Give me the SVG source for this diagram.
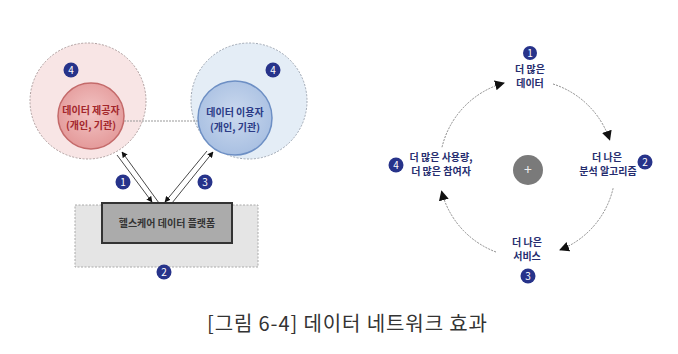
<svg xmlns="http://www.w3.org/2000/svg" width="678" height="354" viewBox="0 0 678 354">
<defs>
<marker id="ah" viewBox="0 0 10 10" refX="9" refY="5" markerWidth="6" markerHeight="6" orient="auto" markerUnits="userSpaceOnUse"><path d="M0,0 L10,5 L0,10 Z" fill="#111"/></marker>
<marker id="ahb" viewBox="0 0 10 10" refX="9" refY="5" markerWidth="10" markerHeight="10" orient="auto" markerUnits="userSpaceOnUse"><path d="M0,0 L10,5 L0,10 Z" fill="#111"/></marker>
<radialGradient id="gr" cx="50%" cy="45%" r="55%"><stop offset="0" stop-color="#f2c4c4"/><stop offset="1" stop-color="#e49a9a"/></radialGradient>
<radialGradient id="gb" cx="50%" cy="45%" r="55%"><stop offset="0" stop-color="#cbd9ee"/><stop offset="1" stop-color="#a9c0e2"/></radialGradient>
</defs>
<style>
text{font-family:"Noto Sans CJK KR","Noto Sans",sans-serif}
.badge circle{fill:#27338a}
.badge text{fill:#fff;font-size:10px;text-anchor:middle}
.lbl{font-size:10px;font-weight:bold;fill:#252c6e;text-anchor:middle}
.arc{fill:none;stroke:#8a8a8a;stroke-width:1;stroke-dasharray:2 1.2}
.ln{stroke:#333;stroke-width:0.9;fill:none}
.ct{font-size:10px;font-weight:bold;text-anchor:middle}
</style>
<rect width="678" height="354" fill="#fff"/>

<g id="provider-zone">
<circle cx="88" cy="101" r="58" fill="#f8e5e5" stroke="#b0a0a0" stroke-width="1" stroke-dasharray="2 1.5"/>
</g>
<g id="user-zone">
<circle cx="249" cy="101" r="58" fill="#e4edf6" stroke="#a0a8b4" stroke-width="1" stroke-dasharray="2 1.5"/>
</g>
<g id="platform-zone">
<rect x="75" y="205" width="183" height="62" fill="#e5e5e5" stroke="#aaa" stroke-width="1" stroke-dasharray="2 1.5"/>
</g>

<g id="connectors">
<line x1="124" y1="121" x2="198" y2="121" stroke="#999" stroke-width="1" stroke-dasharray="2 1"/>
<line class="ln" x1="117" y1="155" x2="152" y2="202" marker-end="url(#ah)"/>
<line class="ln" x1="159" y1="203" x2="122" y2="152" marker-end="url(#ah)"/>
<line class="ln" x1="207" y1="151" x2="165" y2="202" marker-end="url(#ah)"/>
<line class="ln" x1="172" y1="203" x2="213" y2="152" marker-end="url(#ah)"/>
<path class="arc" d="M553,84 A88,88 0 0 1 609.7,139.9" marker-end="url(#ahb)"/>
<path class="arc" d="M613.1,188.3 A88,88 0 0 1 560,250" marker-end="url(#ahb)"/>
<path class="arc" d="M496,252 A88,88 0 0 1 441.6,191.3" marker-end="url(#ahb)"/>
<path class="arc" d="M442,147.2 A88,88 0 0 1 504,83" marker-end="url(#ahb)"/>
</g>

<g id="provider">
<circle cx="91" cy="116" r="33" fill="url(#gr)" stroke="#c46a6a" stroke-width="1.5"/>
<text class="ct" x="91" y="114" fill="#a3262b">데이터 제공자</text>
<text class="ct" x="91" y="129" fill="#a3262b">(개인, 기관)</text>
</g>
<g id="user">
<circle cx="235" cy="118" r="37" fill="url(#gb)" stroke="#6d8fc4" stroke-width="1.5"/>
<text class="ct" x="235" y="116" fill="#2a3a86">데이터 이용자</text>
<text class="ct" x="235" y="131" fill="#2a3a86">(개인, 기관)</text>
</g>
<g id="platform">
<rect x="102" y="203" width="130" height="40" fill="#ababab" stroke="#333" stroke-width="2"/>
<text x="167" y="227" font-size="10" font-weight="bold" fill="#333" text-anchor="middle">헬스케어 데이터 플랫폼</text>
</g>

<g id="badges-left">
<g class="badge"><circle cx="71" cy="70" r="7.5"/><text x="71" y="73.5">4</text></g>
<g class="badge"><circle cx="273" cy="70" r="7.5"/><text x="273" y="73.5">4</text></g>
<g class="badge"><circle cx="123" cy="182" r="7.5"/><text x="123" y="185.5">1</text></g>
<g class="badge"><circle cx="205" cy="182" r="7.5"/><text x="205" y="185.5">3</text></g>
<g class="badge"><circle cx="164" cy="272" r="7.5"/><text x="164" y="275.5">2</text></g>
</g>

<g id="center">
<circle cx="528" cy="170" r="15" fill="#7a7a7a"/>
<text x="528" y="175" font-size="14" fill="#eee" text-anchor="middle">+</text>
</g>

<g id="n1">
<g class="badge"><circle cx="530" cy="53" r="7"/><text x="530" y="56.5">1</text></g>
<text class="lbl" x="530" y="73">더 많은</text>
<text class="lbl" x="530" y="87">데이터</text>
</g>
<g id="n2">
<g class="badge"><circle cx="645" cy="162" r="7.5"/><text x="645" y="165.5">2</text></g>
<text class="lbl" x="607" y="161">더 나은</text>
<text class="lbl" x="608" y="175">분석 알고리즘</text>
</g>
<g id="n3">
<text class="lbl" x="527" y="246">더 나은</text>
<text class="lbl" x="527" y="260">서비스</text>
<g class="badge"><circle cx="528" cy="276" r="7.5"/><text x="528" y="279.5">3</text></g>
</g>
<g id="n4">
<g class="badge"><circle cx="396" cy="165" r="7.5"/><text x="396" y="168.5">4</text></g>
<text class="lbl" x="441" y="161">더 많은 사용량,</text>
<text class="lbl" x="441" y="175">더 많은 참여자</text>
</g>

<g id="caption">
<text x="207" y="331" font-size="20" fill="#333" textLength="280" lengthAdjust="spacing">[그림 6-4] 데이터 네트워크 효과</text>
</g>
</svg>
